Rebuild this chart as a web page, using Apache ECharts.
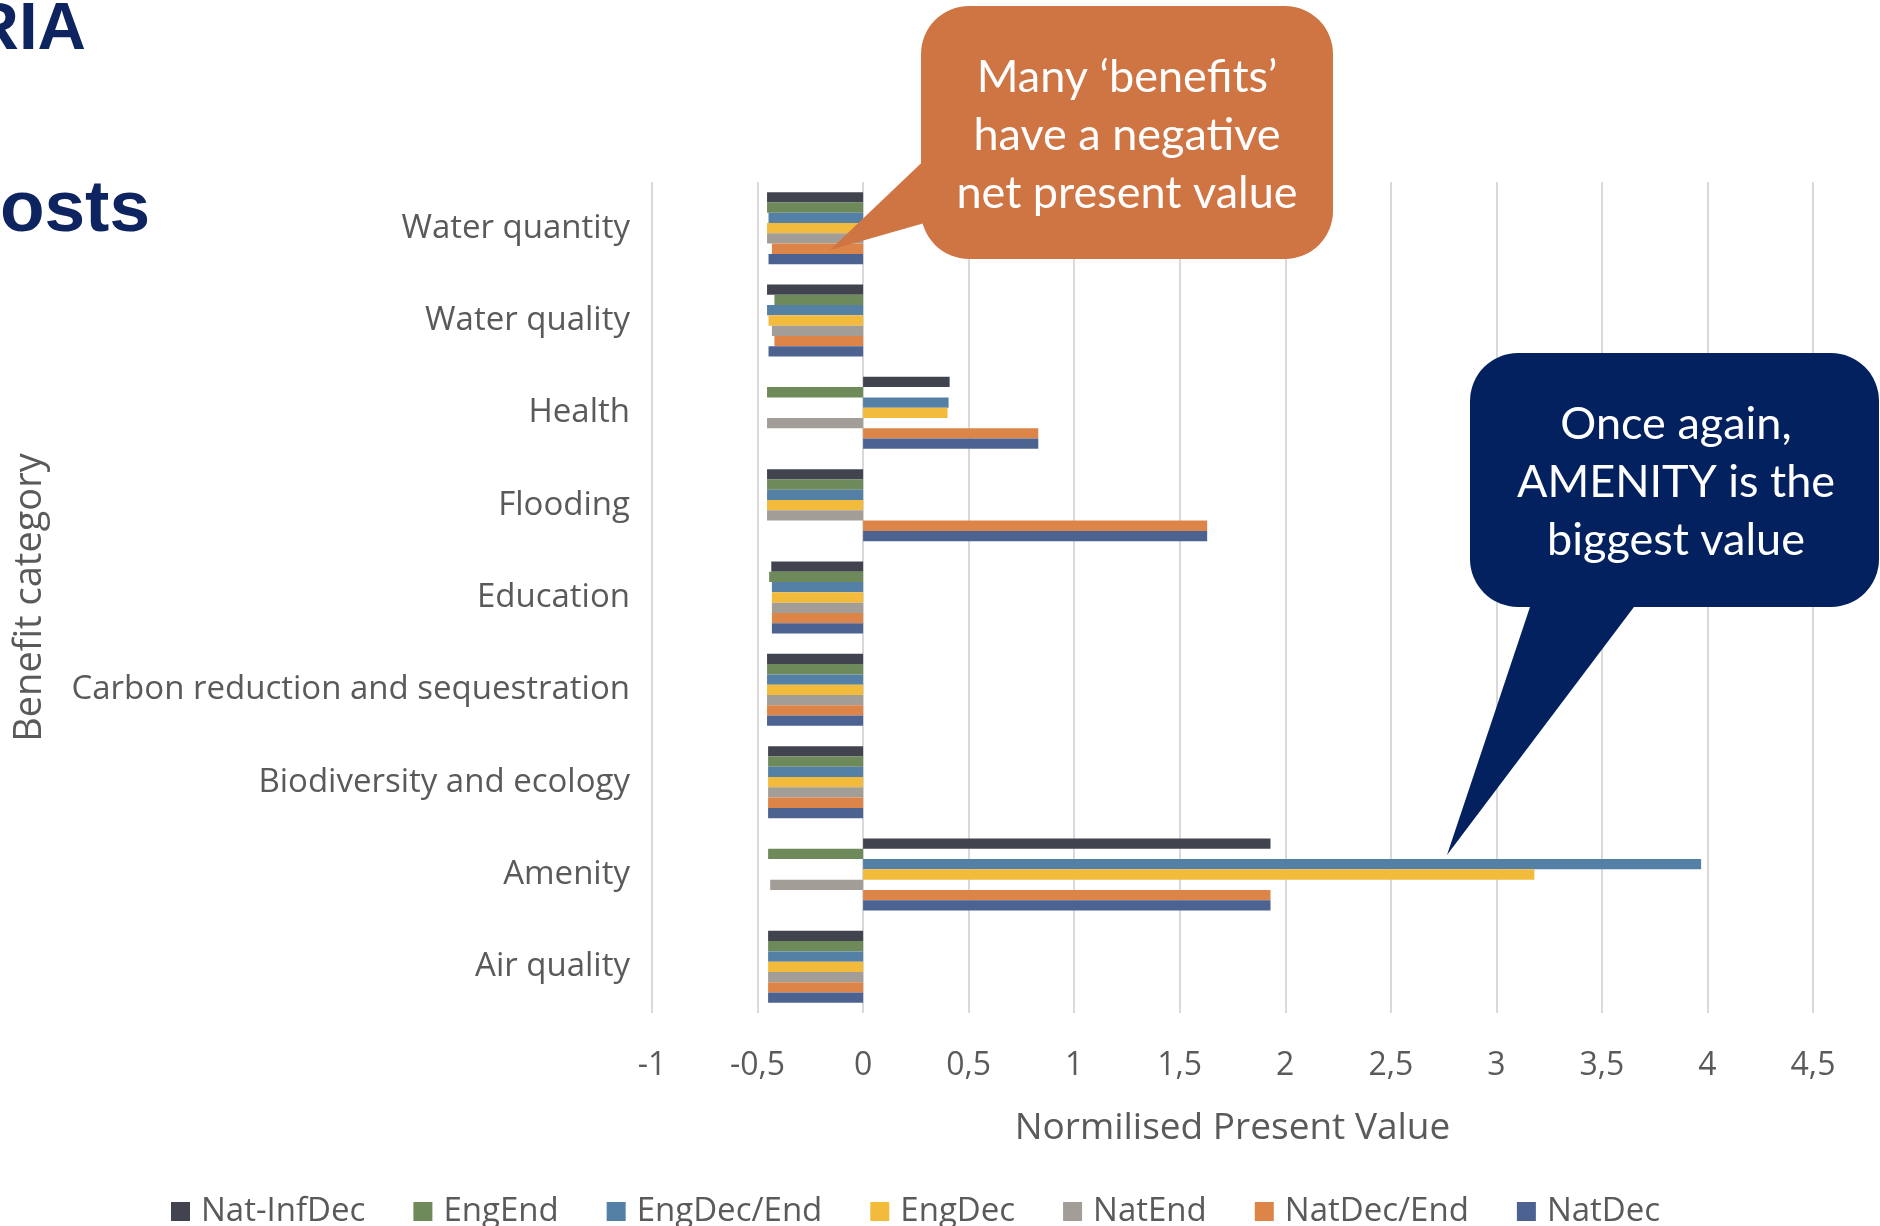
<!DOCTYPE html>
<html>
<head>
<meta charset="utf-8">
<title>Benefit categories – normalised present value</title>
<script src="https://cdn.jsdelivr.net/npm/echarts@6/dist/echarts.min.js"></script>
<style>
  html, body { margin: 0; padding: 0; background: #ffffff; }
  #chart { width: 1880px; height: 1226px; }
</style>
</head>
<body>
<div id="chart"></div>
<script>
// Benefit categories, listed top to bottom
const categories = [
  'Water quantity',
  'Water quality',
  'Health',
  'Flooding',
  'Education',
  'Carbon reduction and sequestration',
  'Biodiversity and ecology',
  'Amenity',
  'Air quality'
];

// Scenario names (legend order, also top-to-bottom order inside each group)
const seriesNames = ['Nat-InfDec', 'EngEnd', 'EngDec/End', 'EngDec', 'NatEnd', 'NatDec/End', 'NatDec'];

// Normalised present value per scenario, one value per category above
const natInfDec  = [-0.455, -0.455, 0.41,  -0.455, -0.435, -0.455, -0.45, 1.93, -0.45];
const engEnd     = [-0.455, -0.42,  -0.455, -0.455, -0.445, -0.455, -0.45, -0.45, -0.45];
const engDecEnd  = [-0.448, -0.455, 0.405, -0.455, -0.432, -0.455, -0.45, 3.97, -0.45];
const engDec     = [-0.455, -0.448, 0.40,  -0.455, -0.432, -0.455, -0.45, 3.18, -0.45];
const natEnd     = [-0.455, -0.432, -0.455, -0.455, -0.432, -0.455, -0.45, -0.44, -0.45];
const natDecEnd  = [-0.432, -0.42,  0.83,  1.63,  -0.432, -0.455, -0.45, 1.93, -0.45];
const natDec     = [-0.448, -0.448, 0.83,  1.63,  -0.432, -0.455, -0.45, 1.93, -0.45];

// Value axis tick labels (comma decimal separator), from -1 to 4.5 in steps of 0.5
const xTickLabels = ['-1', '-0,5', '0', '0,5', '1', '1,5', '2', '2,5', '3', '3,5', '4', '4,5'];

const seriesValues = [natInfDec, engEnd, engDecEnd, engDec, natEnd, natDecEnd, natDec];
const seriesColors = ['#41444f', '#6e8a5a', '#5580a6', '#f2bb3c', '#a39d97', '#dd8548', '#4c6391'];

const X_MIN = -1, X_MAX = 4.5, X_STEP = 0.5;
const labelFont = '"Open Sans", sans-serif';
const labelColor = '#5a5a5a';

const chart = echarts.init(document.getElementById('chart'), null, { renderer: 'canvas' });

const option = {
  backgroundColor: '#ffffff',
  animation: false,
  grid: { left: 652, right: 67, top: 182, bottom: 213, containLabel: false },
  legend: {
    data: seriesNames,
    left: 166,
    top: 1190,
    itemWidth: 19,
    itemHeight: 19,
    itemGap: 48,
    icon: 'rect',
    textStyle: { fontFamily: labelFont, fontSize: 33, color: labelColor, padding: [0, 0, 0, 6] }
  },
  xAxis: {
    type: 'value',
    min: X_MIN,
    max: X_MAX,
    interval: X_STEP,
    axisLine: { show: false },
    axisTick: { show: false },
    splitLine: { show: true, lineStyle: { color: '#d9d9d9', width: 2 } },
    axisLabel: {
      margin: 37,
      fontFamily: labelFont,
      fontSize: 32,
      color: labelColor,
      formatter: function (v) {
        const i = Math.round((v - X_MIN) / X_STEP);
        return xTickLabels[i] !== undefined ? xTickLabels[i] : '';
      }
    },
    name: 'Normilised Present Value',
    nameLocation: 'middle',
    nameGap: 97,
    nameTextStyle: { fontFamily: labelFont, fontSize: 37, color: labelColor }
  },
  yAxis: {
    type: 'category',
    data: categories,
    inverse: true,
    axisLine: { show: false, onZero: false },
    axisTick: { show: false },
    splitLine: { show: false },
    axisLabel: { margin: 22, fontFamily: labelFont, fontSize: 33, color: labelColor },
    name: 'Benefit category',
    nameLocation: 'middle',
    nameGap: 603,
    nameRotate: 90,
    nameTextStyle: { fontFamily: labelFont, fontSize: 38, color: labelColor }
  },
  series: seriesNames.map(function (name, i) {
    return {
      name: name,
      type: 'bar',
      data: seriesValues[i],
      itemStyle: { color: seriesColors[i] },
      barGap: '0%',
      barCategoryGap: '22%'
    };
  }),
  graphic: [
    // Slide heading fragments at the top left
    {
      type: 'text', x: 86, y: 31, z: 100,
      style: { text: 'RIA', align: 'right', verticalAlign: 'middle',
        font: 'bold 67px "Liberation Sans", Arial, sans-serif', fill: '#0d2461' }
    },
    {
      type: 'text', x: 150, y: 211, z: 100,
      style: { text: 'osts', align: 'right', verticalAlign: 'middle',
        font: 'bold 73px "Liberation Sans", Arial, sans-serif', fill: '#0d2461' }
    },
    // Orange call-out
    {
      type: 'polygon', z: 100,
      shape: { points: [[935, 150], [830, 250], [935, 220]] },
      style: { fill: '#cf7443' }
    },
    {
      type: 'rect', z: 100,
      shape: { x: 921, y: 6, width: 412, height: 253, r: 48 },
      style: { fill: '#cf7443' }
    },
    {
      type: 'text', x: 1127, y: 135, z: 101,
      style: {
        text: 'Many \u2018benefits\u2019\nhave a negative\nnet present value',
        align: 'center', verticalAlign: 'middle', lineHeight: 58,
        font: '45px Lato, sans-serif', fill: '#ffffff'
      }
    },
    // Navy call-out
    {
      type: 'polygon', z: 100,
      shape: { points: [[1534, 595], [1447, 855], [1643, 595]] },
      style: { fill: '#03215f' }
    },
    {
      type: 'rect', z: 100,
      shape: { x: 1470, y: 353, width: 409, height: 254, r: 48 },
      style: { fill: '#03215f' }
    },
    {
      type: 'text', x: 1676, y: 482, z: 101,
      style: {
        text: 'Once again,\nAMENITY is the\nbiggest value',
        align: 'center', verticalAlign: 'middle', lineHeight: 58,
        font: '45px Lato, sans-serif', fill: '#ffffff'
      }
    }
  ]
};

chart.setOption(option);
</script>
</body>
</html>
